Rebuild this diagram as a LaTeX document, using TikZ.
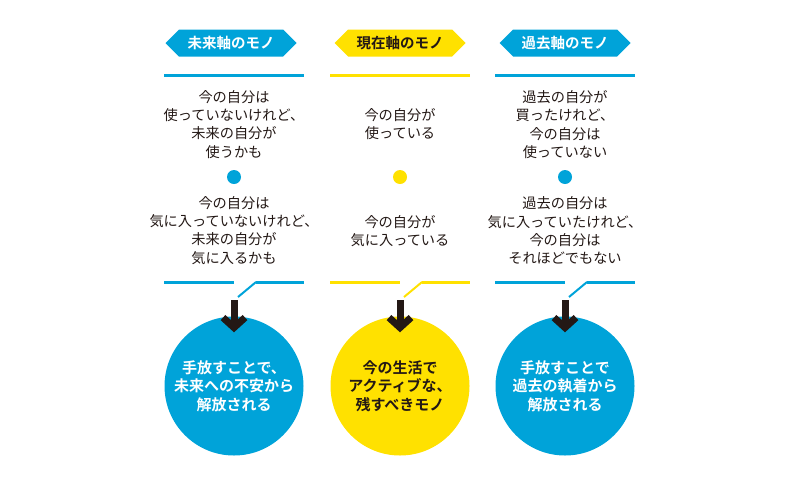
\documentclass[tikz,border=0pt]{standalone}
\usepackage{fontspec}
\setmainfont{Noto Sans CJK JP}[BoldFont={Noto Sans CJK JP Bold}]
\usetikzlibrary{shapes.symbols,arrows.meta}
\definecolor{skyblue}{RGB}{0,163,217}
\definecolor{sunyellow}{RGB}{255,225,0}
\definecolor{inkblack}{RGB}{35,24,21}
\tikzset{
  badge/.style={signal, signal to=west and east, signal pointer angle=90,
    minimum width=131pt, minimum height=27pt, inner sep=0pt,
    font=\bfseries\fontsize{14.5}{16}\selectfont},
  memo/.style={align=center, inner sep=0pt, text=inkblack,
    font=\fontsize{14.2}{18.2}\selectfont},
  goal/.style={circle, minimum size=139pt, inner sep=0pt, align=center,
    font=\bfseries\fontsize{15}{18.5}\selectfont},
  rule/.style={line width=3pt},
  kink/.style={line width=2pt},
  downarrow/.style={draw=inkblack, line width=7pt,
    -{Straight Barb[length=10pt,width=22pt]}},
}
\begin{document}
\begin{tikzpicture}[x=1pt,y=-1pt]
\useasboundingbox (0,0) rectangle (800,480);

% Headers
\node[badge, fill=skyblue, text=white] (h1) at (231,43) {未来軸のモノ};
\node[badge, fill=sunyellow, text=inkblack] (h2) at (400,43) {現在軸のモノ};
\node[badge, fill=skyblue, text=white] (h3) at (565,43) {過去軸のモノ};

% Rules, dots and callouts
\foreach \i/\x/\c in {1/234/skyblue, 2/400/sunyellow, 3/565/skyblue}
{
  \draw[rule, \c] (\x-70,75) -- (\x+70,75);
  \fill[\c] (\x,177) circle (7pt);
  \draw[rule, \c] (\x-70,282) -- (\x,282);
  \draw[rule, \c] (\x+22,282) -- (\x+70,282);
  \draw[kink, \c] (\x+22,282) -- (\x+4,297);
  \coordinate (a\i) at (\x,300);
}

% Column 1
\node[memo] (t1) at (234,124.5) {今の自分は\\使っていないけれど、\\未来の自分が\\使うかも};
\node[memo] (b1) at (234,230.5) {今の自分は\\気に入っていないけれど、\\未来の自分が\\気に入るかも};

% Column 2
\node[memo] (t2) at (400,124) {今の自分が\\使っている};
\node[memo] (b2) at (400,231) {今の自分が\\気に入っている};

% Column 3
\node[memo] (t3) at (565,124.5) {過去の自分が\\買ったけれど、\\今の自分は\\使っていない};
\node[memo] (b3) at (565,230.5) {過去の自分は\\気に入っていたけれど、\\今の自分は\\それほどでもない};

% Circles
\node[goal, fill=skyblue, text=white] (c1) at (234,386) {手放すことで、\\未来への不安から\\解放される};
\node[goal, fill=sunyellow, text=inkblack] (c2) at (400,386) {今の生活で\\アクティブな、\\残すべきモノ};
\node[goal, fill=skyblue, text=white] (c3) at (565,386) {手放すことで\\過去の執着から\\解放される};

% Arrows
\foreach \i in {1,2,3}
  \draw[downarrow] (a\i) -- ([yshift=-16pt]c\i.north);

\end{tikzpicture}
\end{document}
